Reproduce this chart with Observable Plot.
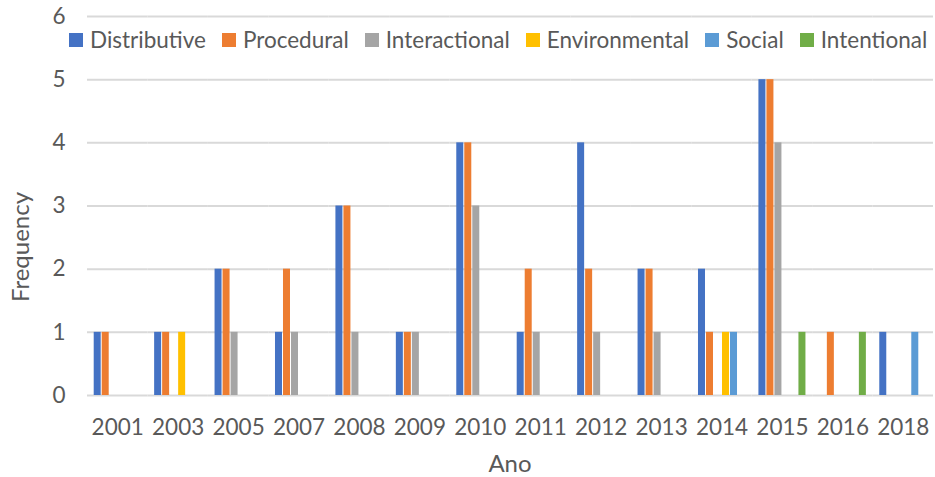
<!DOCTYPE html>
<html>
<head>
<meta charset="utf-8">
<script src="https://cdn.jsdelivr.net/npm/d3@7"></script>
<script src="https://cdn.jsdelivr.net/npm/@observablehq/plot@0.6"></script>
<style>
  body { margin: 0; background: white; }
  #wrap { position: relative; width: 935px; height: 477px; overflow: hidden; font-family: Lato, "Open Sans", sans-serif; color: #595959; }
  #legend { position: absolute; left: 69px; top: 27px; display: flex; align-items: center; font-size: 22.5px; line-height: 26px; white-space: nowrap; }
  .item { display: flex; align-items: center; margin-right: 16px; }
  .sw { width: 14px; height: 14px; margin-right: 7px; }
  .title { position: absolute; font-size: 24px; line-height: 24px; white-space: nowrap; }
  #ylabel { left: 20px; top: 247px; transform: translate(-50%, -50%) rotate(-90deg); }
  #xlabel { left: 510px; top: 451px; transform: translateX(-50%); }
</style>
</head>
<body>
<div id="wrap"></div>
<script>
const years = ["2001","2003","2005","2007","2008","2009","2010","2011","2012","2013","2014","2015","2016","2018"];
const seriesNames = ["Distributive","Procedural","Interactional","Environmental","Social","Intentional"];
const colors = ["#4472C4","#ED7D31","#A5A5A5","#FFC000","#5B9BD5","#70AD47"];
const distributive  = [1,1,2,1,3,1,4,1,4,2,2,5,0,1];
const procedural    = [1,1,2,2,3,1,4,2,2,2,1,5,1,0];
const interactional = [0,0,1,1,1,1,3,1,1,1,0,4,0,0];
const environmental = [0,1,0,0,0,0,0,0,0,0,1,0,0,0];
const social        = [0,0,0,0,0,0,0,0,0,0,1,0,0,1];
const intentional   = [0,0,0,0,0,0,0,0,0,0,0,1,1,0];
const yTicks = [0,1,2,3,4,5,6];
const xTitle = "Ano";
const yTitle = "Frequency";

const seriesValues = [distributive, procedural, interactional, environmental, social, intentional];
const table = years.flatMap((year, i) =>
  seriesNames.map((s, j) => ({year, series: s, value: seriesValues[j][i]}))
).filter(d => d.value > 0);

const chart = Plot.plot({
  width: 935,
  height: 477,
  marginLeft: 87,
  marginRight: 2,
  marginTop: 16,
  marginBottom: 82,
  style: {fontFamily: "Lato, 'Open Sans', sans-serif", fontSize: "22.5px", color: "#595959", background: "white", overflow: "visible"},
  facet: {data: table, x: "year"},
  fx: {domain: years, padding: 0, round: false, label: null, axis: "bottom", tickSize: 0, tickPadding: 24},
  x: {domain: seriesNames, axis: null, paddingInner: 0, paddingOuter: 0.775, round: false},
  y: {domain: [0, 6], ticks: yTicks, tickFormat: "d", label: null, tickSize: 0, tickPadding: 22},
  color: {domain: seriesNames, range: colors},
  marks: [
    Plot.ruleY(yTicks, {stroke: "#d9d9d9", strokeWidth: 2}),
    Plot.barY(table, {x: "series", y: "value", fill: "series", insetLeft: 0.5, insetRight: 0.5})
  ]
});

const wrap = document.getElementById("wrap");
wrap.appendChild(chart);

const legend = document.createElement("div");
legend.id = "legend";
seriesNames.forEach((s, i) => {
  const item = document.createElement("div");
  item.className = "item";
  const sw = document.createElement("div");
  sw.className = "sw";
  sw.style.background = colors[i];
  const label = document.createElement("span");
  label.textContent = s;
  item.appendChild(sw);
  item.appendChild(label);
  legend.appendChild(item);
});
wrap.appendChild(legend);

const yl = document.createElement("div");
yl.id = "ylabel"; yl.className = "title"; yl.textContent = yTitle;
wrap.appendChild(yl);
const xl = document.createElement("div");
xl.id = "xlabel"; xl.className = "title"; xl.textContent = xTitle;
wrap.appendChild(xl);
</script>
</body>
</html>
